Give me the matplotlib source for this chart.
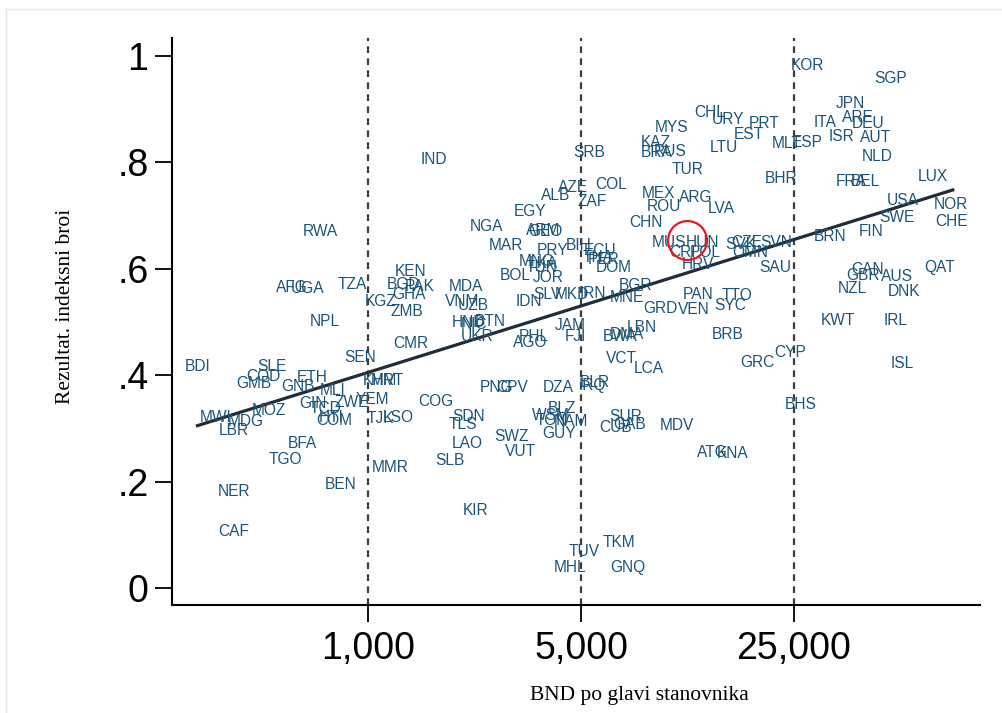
import matplotlib
matplotlib.use("Agg")
import matplotlib.pyplot as plt
import numpy as np

# Country codes, GNI per capita and index score
codes = ["BDI", "SLE", "COD", "GMB", "ETH", "GNB", "MLI", "SEN", "KHM", "MRT",
         "YEM", "GIN", "ZWE", "TCD", "MOZ", "MWI", "MDG", "LBR", "HTI", "COM",
         "TJK", "LSO", "COG", "BFA", "TGO", "MMR", "SLB", "NER", "BEN", "CAF",
         "KIR", "RWA", "AFG", "UGA", "TZA", "KEN", "BGD", "PAK", "GHA", "KGZ",
         "ZMB", "NPL", "CMR", "IND", "MDA", "VNM", "UZB", "HND", "NIC", "BTN",
         "UKR", "IDN", "NGA", "EGY", "MAR", "BOL", "SRB", "AZE", "COL", "ALB",
         "ZAF", "ARM", "GEO", "PRY", "BIH", "ECU", "THA", "PER", "DOM", "MNG",
         "LKA", "TUN", "JOR", "SLV", "MKD", "IRN", "BGR", "MNE", "JAM", "FJI",
         "PHL", "AGO", "BWA", "DMA", "LBN", "VCT", "LCA", "PNG", "CPV", "DZA",
         "BLR", "IRQ", "SDN", "TLS", "BLZ", "WSM", "TON", "NAM", "GUY", "SUR",
         "GAB", "CUB", "MDV", "SWZ", "LAO", "VUT", "TKM", "TUV", "MHL", "GNQ",
         "CHL", "URY", "PRT", "MYS", "EST", "KAZ", "RUS", "BRA", "LTU", "MLT",
         "ESP", "TUR", "BHR", "MEX", "ARG", "ROU", "LVA", "CHN", "MUS", "HUN",
         "CRI", "POL", "CZE", "SVK", "SVN", "OMN", "HRV", "SAU", "PAN", "TTO",
         "SYC", "VEN", "GRD", "BRB", "GRC", "CYP", "BHS", "ATG", "KNA", "KOR",
         "SGP", "JPN", "ARE", "ITA", "DEU", "ISR", "AUT", "NLD", "FRA", "BEL",
         "LUX", "USA", "NOR", "SWE", "CHE", "FIN", "BRN", "QAT", "CAN", "GBR",
         "AUS", "NZL", "DNK", "KWT", "IRL", "ISL"]

gni = [275, 484, 452, 423, 655, 589, 762, 941, 1095, 1154,
       1031, 660, 880, 723, 473, 315, 395, 363, 756, 773,
       1100, 1254, 1672, 607, 534, 1181, 1858, 363, 809, 363,
       2245, 696, 563, 631, 886, 1374, 1303, 1481, 1363, 1100,
       1343, 723, 1384, 1647, 2097, 2034, 2211, 2129, 2228, 2514,
       2279, 3376, 2439, 3401, 2838, 3037, 5313, 4708, 6273, 4140,
       5435, 3752, 3810, 4017, 4926, 5772, 5685, 5950, 6418, 3585,
       3750, 3700, 3896, 3867, 4672, 5475, 7520, 7080, 4600, 4779,
       3505, 3401, 6714, 7080, 7930, 6766, 8360, 2631, 2969, 4203,
       5559, 5435, 2129, 2050, 4332, 3986, 4017, 4637, 4234, 6975,
       7190, 6515, 10330, 2946, 2113, 3154, 6664, 5116, 4600, 7134,
       13260, 15190, 19930, 9870, 17800, 8815, 9800, 8880, 14740, 23720,
       27600, 11220, 22670, 8950, 11930, 9360, 14400, 8170, 9720, 12480,
       10730, 12760, 17530, 16760, 21830, 17930, 12110, 21660, 12110, 16260,
       15420, 11750, 9085, 15190, 18910, 24260, 26370, 13460, 15770, 27600,
       52060, 38180, 40570, 31610, 43750, 35930, 46130, 46830, 38470, 42770,
       71500, 56980, 81900, 54460, 82500, 44750, 32830, 75400, 43750, 42130,
       54460, 38770, 57420, 34860, 54060, 56550]

score = [0.417, 0.417, 0.398, 0.385, 0.395, 0.378, 0.372, 0.434, 0.389, 0.389,
         0.355, 0.346, 0.348, 0.338, 0.333, 0.321, 0.312, 0.295, 0.321, 0.314,
         0.318, 0.321, 0.350, 0.271, 0.242, 0.227, 0.239, 0.182, 0.195, 0.107,
         0.145, 0.669, 0.564, 0.562, 0.570, 0.594, 0.570, 0.566, 0.551, 0.538,
         0.519, 0.500, 0.459, 0.805, 0.566, 0.538, 0.530, 0.498, 0.496, 0.500,
         0.472, 0.538, 0.680, 0.707, 0.643, 0.588, 0.818, 0.752, 0.759, 0.737,
         0.726, 0.671, 0.669, 0.635, 0.643, 0.635, 0.622, 0.618, 0.603, 0.613,
         0.609, 0.602, 0.583, 0.551, 0.551, 0.553, 0.568, 0.545, 0.494, 0.472,
         0.472, 0.462, 0.472, 0.477, 0.489, 0.432, 0.412, 0.376, 0.376, 0.376,
         0.387, 0.380, 0.323, 0.308, 0.338, 0.325, 0.314, 0.312, 0.291, 0.323,
         0.308, 0.301, 0.306, 0.284, 0.271, 0.256, 0.085, 0.068, 0.039, 0.039,
         0.893, 0.880, 0.872, 0.865, 0.853, 0.838, 0.821, 0.818, 0.827, 0.836,
         0.838, 0.786, 0.769, 0.741, 0.733, 0.716, 0.714, 0.686, 0.650, 0.650,
         0.630, 0.630, 0.650, 0.645, 0.650, 0.630, 0.607, 0.603, 0.551, 0.549,
         0.530, 0.524, 0.526, 0.476, 0.423, 0.442, 0.344, 0.254, 0.252, 0.981,
         0.957, 0.910, 0.885, 0.874, 0.872, 0.848, 0.846, 0.810, 0.763, 0.763,
         0.773, 0.729, 0.720, 0.697, 0.688, 0.669, 0.660, 0.603, 0.598, 0.588,
         0.586, 0.562, 0.558, 0.502, 0.502, 0.421]

# Fitted line (log GNI) endpoints
fit_gni = [275, 83000]
fit_score = [0.305, 0.748]

# Reference incomes marked with dashed lines
ref_gni = [1000, 5000, 25000]
ref_labels = ["1,000", "5,000", "25,000"]

y_ticks = [0, 0.2, 0.4, 0.6, 0.8, 1.0]
y_ticklabels = ["0", ".2", ".4", ".6", ".8", "1"]

# Highlighted country (circle)
highlight_gni = 11140
highlight_score = 0.654

label_color = "#1d5578"

fig = plt.figure(figsize=(10.03, 7.13), dpi=100)
fig.patch.set_facecolor("white")
ax = fig.add_axes([0.1715, 0.1515, 0.8056, 0.7955])
ax.set_xscale("log")
ax.set_xlim(227, 102000)
ax.set_ylim(-0.032, 1.034)

for g in ref_gni:
    ax.axvline(g, color="#3d3d3d", lw=1.6, ls=(0, (3.0, 2.4)), zorder=1)

ax.plot(fit_gni, fit_score, color="#222b38", lw=2.3, zorder=2)

for c, g, s in zip(codes, gni, score):
    ax.text(g, s, c, ha="center", va="center", fontsize=11.2,
            family="Liberation Sans", color=label_color, zorder=3)

ax.plot([highlight_gni], [highlight_score], marker="o", ms=28, mfc="none",
        mec="#e8191c", mew=1.6, zorder=4)

for side in ("top", "right"):
    ax.spines[side].set_visible(False)
for side in ("left", "bottom"):
    ax.spines[side].set_linewidth(1.5)
    ax.spines[side].set_color("black")

ax.set_xticks(ref_gni)
ax.set_xticklabels(ref_labels)
ax.xaxis.set_minor_locator(matplotlib.ticker.NullLocator())
ax.set_yticks(y_ticks)
ax.set_yticklabels(y_ticklabels)
ax.tick_params(axis="both", length=12, width=1.3, labelsize=27, color="black")
ax.tick_params(axis="x", pad=7)
ax.tick_params(axis="y", pad=5)
for lab in ax.get_xticklabels() + ax.get_yticklabels():
    lab.set_family("Liberation Sans")

ax.set_xlabel("BND po glavi stanovnika", family="Liberation Serif", fontsize=15.5)
ax.set_ylabel("Rezultat. indeksni broi", family="Liberation Serif", fontsize=15.5)
ax.xaxis.set_label_coords(0.579, -0.143)
ax.yaxis.set_label_coords(-0.12, 0.527)

# light frame around the figure
fig.add_artist(plt.Rectangle((0.006, -0.01), 1.0, 0.997, transform=fig.transFigure,
                             fill=False, ec="#e6e6e6", lw=1.0))

fig.savefig("out.png", dpi=100)
